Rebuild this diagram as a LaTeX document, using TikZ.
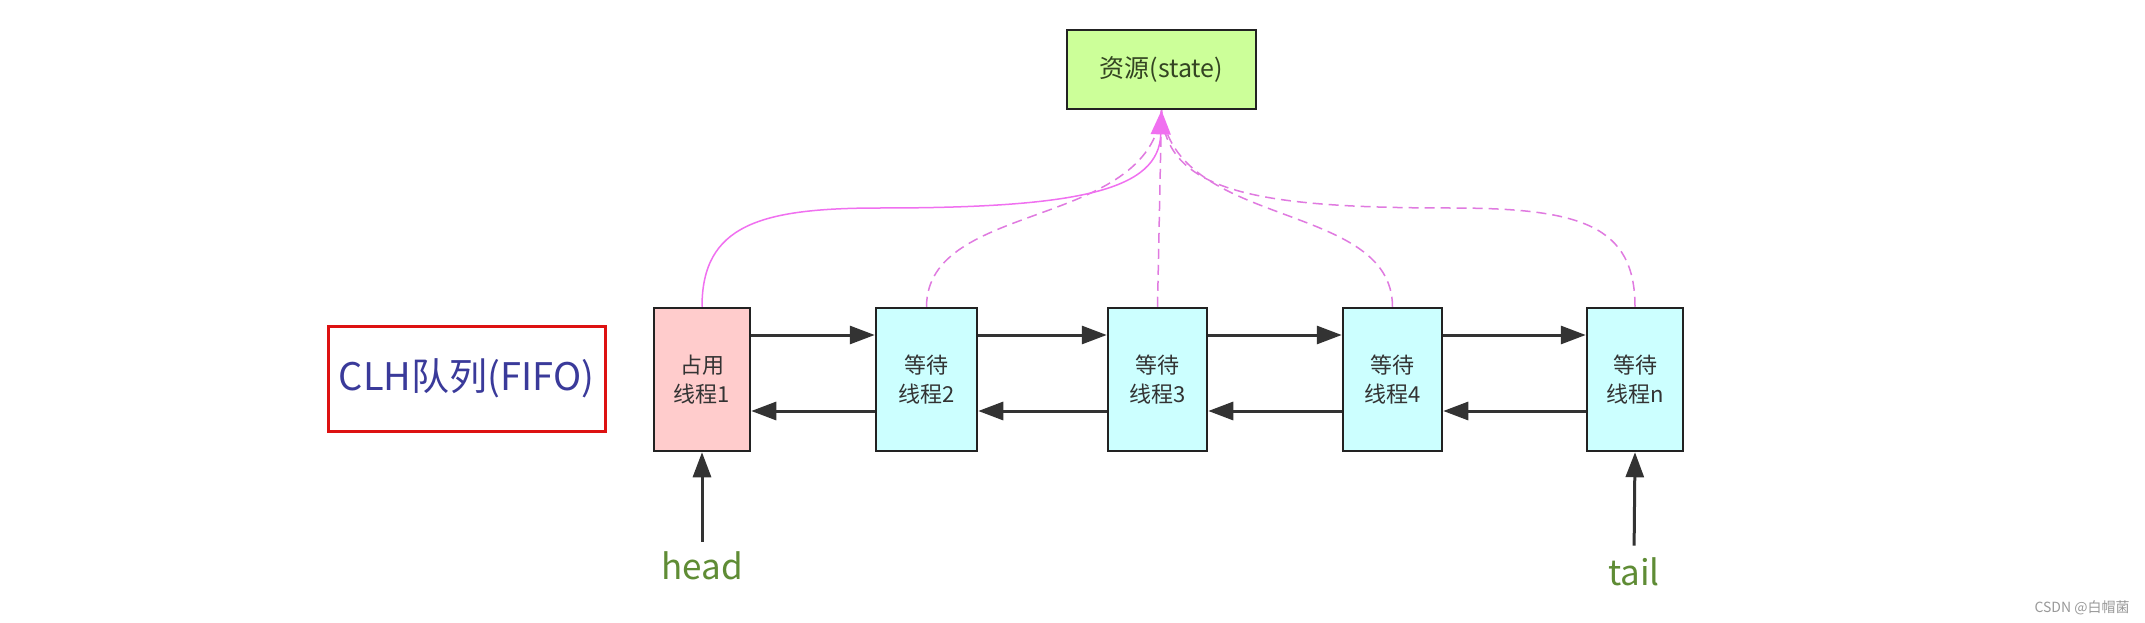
\documentclass[tikz,border=0pt]{standalone}
\usepackage{fontspec}
\setmainfont{Noto Sans CJK SC}
\usetikzlibrary{arrows.meta}
\definecolor{boxborder}{HTML}{222222}
\definecolor{resfill}{HTML}{CCFF99}
\definecolor{restext}{HTML}{334422}
\definecolor{pinkfill}{HTML}{FFCCCC}
\definecolor{cyanfill}{HTML}{CCFFFF}
\definecolor{txt}{HTML}{333333}
\definecolor{clhc}{HTML}{3A3A9A}
\definecolor{clhborder}{HTML}{DD1111}
\definecolor{arrowc}{HTML}{333333}
\definecolor{pinkc}{HTML}{E07AE0}
\definecolor{pinktip}{HTML}{F070F0}
\definecolor{lblc}{HTML}{5F8C35}
\definecolor{wmc}{HTML}{999999}
\begin{document}
\begin{tikzpicture}[x=1pt,y=-1pt,
  thread/.style={draw=boxborder, line width=2.5pt, minimum height=143pt, inner sep=0pt,
    align=center, font=\fontsize{22}{29}\selectfont, text=txt},
  resbox/.style={draw=boxborder, line width=2.8pt, fill=resfill, minimum width=189pt,
    minimum height=79pt, inner sep=0pt, font=\fontsize{25}{28}\selectfont, text=restext},
  clhbox/.style={draw=clhborder, line width=3pt, minimum width=277pt, minimum height=105pt,
    inner sep=0pt, font=\fontsize{38}{44}\selectfont, text=clhc},
  link/.style={draw=arrowc, line width=3pt, -{Triangle[length=25pt,width=18pt]}},
  lbl/.style={inner sep=0pt, font=\fontsize{35}{40}\selectfont, text=lblc},
  sline/.style={draw=pinkc, line width=1.5pt},
  dline/.style={sline, dash pattern=on 10pt off 6pt}]
\useasboundingbox (0,0) rectangle (2145,623);
\fill[white] (0,0) rectangle (2145,623);

\node[resbox] (res) at (1161.5,69.5) {资源(state)};
\node[clhbox] (clh) at (466.5,378.5) {CLH队列(FIFO)};

\node[thread, fill=pinkfill, minimum width=96pt] (b1) at (702,379.5) {占用\\线程1};
\node[thread, fill=cyanfill, minimum width=101pt] (b2) at (926.5,379.5) {等待\\线程2};
\node[thread, fill=cyanfill, minimum width=99pt] (b3) at (1157.5,379.5) {等待\\线程3};
\node[thread, fill=cyanfill, minimum width=99pt] (b4) at (1392.5,379.5) {等待\\线程4};
\node[thread, fill=cyanfill, minimum width=96pt] (bn) at (1635,379.5) {等待\\线程n};

\coordinate (fy) at (0,335);
\coordinate (by) at (0,411);
\draw[link] (b1.east |- fy) -- (b2.west |- fy);
\draw[link] (b2.east |- fy) -- (b3.west |- fy);
\draw[link] (b3.east |- fy) -- (b4.west |- fy);
\draw[link] (b4.east |- fy) -- (bn.west |- fy);
\draw[link] (b2.west |- by) -- (b1.east |- by);
\draw[link] (b3.west |- by) -- (b2.east |- by);
\draw[link] (b4.west |- by) -- (b3.east |- by);
\draw[link] (bn.west |- by) -- (b4.east |- by);

\node[lbl] (head) at (702,566) {head};
\node[lbl] (tail) at (1634,572) {tail};
\draw[link, shorten <=10pt] (head.north) -- (b1.south);
\draw[link, shorten <=12pt] (tail.north) -- (bn.south);

\coordinate (m1) at (880,208);
\coordinate (mn) at (1450,208);
\draw[dline] (b2.north) .. controls (927,200) and (1150,230) .. (res.south);
\draw[dline] (b3.north) -- (res.south);
\draw[dline] (b4.north) .. controls (1392,200) and (1175,230) .. (res.south);
\draw[dline] (bn.north) .. controls (1635,225) and (1580,208) .. (mn) .. controls (1250,208) and (1165,190) .. (res.south);
\draw[sline, -{Triangle[length=24pt,width=20pt,fill=pinktip]}, pinktip] (b1.north) .. controls (702,225) and (760,208) .. (m1) .. controls (1080,208) and (1159,190) .. (res.south);

\node[text=wmc, font=\fontsize{14}{16}\selectfont, inner sep=0pt] (wm) at (2082,608) {CSDN @白帽菌};
\end{tikzpicture}
\end{document}
